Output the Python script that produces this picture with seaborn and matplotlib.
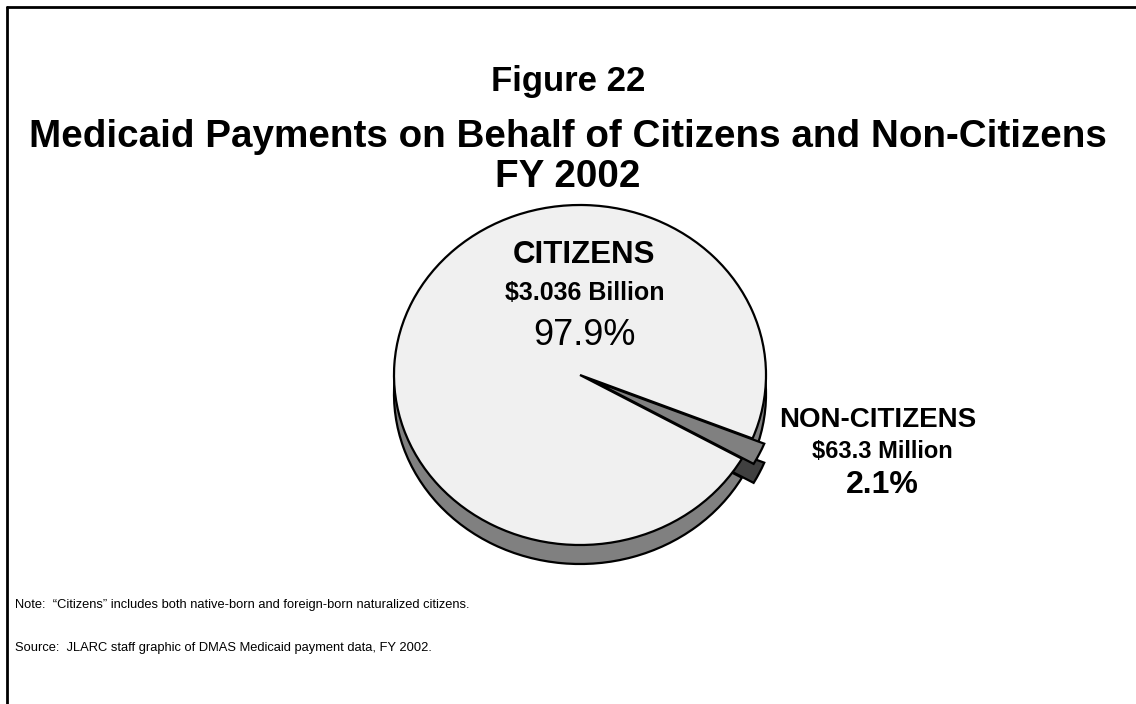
import matplotlib
matplotlib.use("Agg")
import matplotlib.pyplot as plt
import seaborn as sns

# data
groups = ["NON-CITIZENS", "CITIZENS"]
payments = ["$63.3 Million", "$3.036 Billion"]
shares = [2.1, 97.9]

sns.set_theme(style="white")
plt.rcParams["font.family"] = ["Liberation Sans", "DejaVu Sans"]
plt.rcParams["text.color"] = "black"

W, H = 1136, 704
fig = plt.figure(figsize=(W / 100, H / 100), dpi=100)
fig.patch.set_facecolor("white")


def fx(x):
    return x / W


def fy(y):
    return 1 - y / H


# pie axes: centre (580, 375) px, radii 186 x 170 px
cx, cy, rx, ry = 580, 375, 186, 170
lim = 1.4
ax = fig.add_axes([fx(cx - lim * rx), fy(cy + lim * ry), 2 * lim * rx / W, 2 * lim * ry / H])

start = -29.5
explode = [0.07, 0]
depth = 19 / ry

# side (depth) of the 3d pie
ax.pie(shares, startangle=start, explode=explode, center=(0, -depth),
       colors=["#404040", "#808080"], frame=True,
       wedgeprops=dict(edgecolor="black", linewidth=1.6))
# top face
ax.pie(shares, startangle=start, explode=explode, center=(0, 0),
       colors=["#808080", "#f0f0f0"], frame=True,
       wedgeprops=dict(edgecolor="black", linewidth=1.6))
ax.set_aspect("auto")
ax.set_xlim(-lim, lim)
ax.set_ylim(-lim, lim)
ax.axis("off")

# titles
fig.text(fx(568), fy(82), "Figure 22", ha="center", va="center",
         fontsize=25, fontweight="bold")
fig.text(fx(568), fy(137), "Medicaid Payments on Behalf of Citizens and Non-Citizens",
         ha="center", va="center", fontsize=27.8, fontweight="bold")
fig.text(fx(568), fy(177), "FY 2002", ha="center", va="center",
         fontsize=27.8, fontweight="bold")

# slice labels
fig.text(fx(584), fy(263), groups[1], ha="center", va="baseline", fontsize=22.5, fontweight="bold")
fig.text(fx(585), fy(300), payments[1], ha="center", va="baseline", fontsize=18, fontweight="bold")
fig.text(fx(584), fy(345), f"{shares[1]}%", ha="center", va="baseline", fontsize=26)

fig.text(fx(878), fy(427), groups[0], ha="center", va="baseline", fontsize=20, fontweight="bold")
fig.text(fx(882), fy(458), payments[0], ha="center", va="baseline", fontsize=17, fontweight="bold")
fig.text(fx(882), fy(493), f"{shares[0]}%", ha="center", va="baseline", fontsize=23, fontweight="bold")

# notes
fig.text(fx(15), fy(605), "Note:  \u201cCitizens\u201d includes both native-born and foreign-born naturalized citizens.",
         ha="left", va="center", fontsize=9.3)
fig.text(fx(15), fy(648), "Source:  JLARC staff graphic of DMAS Medicaid payment data, FY 2002.",
         ha="left", va="center", fontsize=9.3)

# frame (top and left edges)
fig.add_artist(plt.Line2D([fx(7), 1], [fy(7), fy(7)], color="black", linewidth=2))
fig.add_artist(plt.Line2D([fx(7), fx(7)], [fy(7), 0], color="black", linewidth=2))

fig.savefig("out.png", dpi=100)
